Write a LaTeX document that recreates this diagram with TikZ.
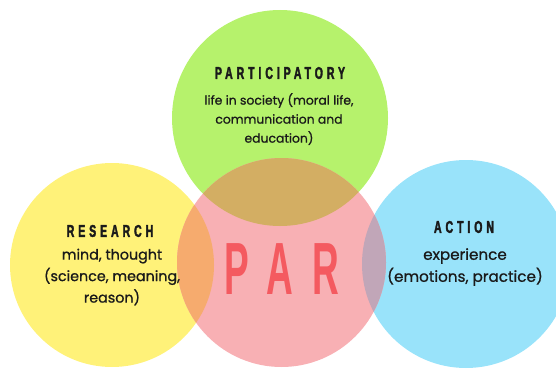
\documentclass[tikz,border=0pt]{standalone}
\usepackage{fontspec}
\setmainfont{Poppins}[FakeBold=0.9]
\newfontfamily\headfont[FakeStretch=0.62,LetterSpace=23,FakeBold=2]{Liberation Sans Bold}
\newfontfamily\bigfont[FakeStretch=0.5,LetterSpace=27]{Liberation Sans Bold}

\definecolor{cgreen}{HTML}{B6F26C}
\definecolor{cyellow}{HTML}{FFF279}
\definecolor{cpink}{HTML}{F8B0B4}
\definecolor{cblue}{HTML}{99E3FA}
\definecolor{cbrown}{HTML}{D3AE63}
\definecolor{corange}{HTML}{F6AB6E}
\definecolor{cmauve}{HTML}{C1A6B8}
\definecolor{cred}{HTML}{F45A60}
\definecolor{ink}{HTML}{1A1A1A}

\tikzset{
  heading/.style={text=ink, font=\headfont\fontsize{17}{20}\selectfont, inner sep=0pt},
  bodytext/.style={text=ink, align=center, inner sep=0pt},
  bigtitle/.style={text=cred, inner sep=0pt, font=\bigfont\fontsize{74}{80}\selectfont},
}

\begin{document}
\begin{tikzpicture}[x=1pt,y=-1pt]
\useasboundingbox (0,0) rectangle (556,369);

% circle centres
\coordinate (G) at (280,118);
\coordinate (Y) at (112,265);
\coordinate (P) at (281.5,262.5);
\coordinate (B) at (466,264);

% the four discs
\fill[cgreen]  (G) circle (108);
\fill[cyellow] (Y) circle (102);
\fill[cblue]   (B) circle (104);
\fill[cpink]   (P) circle (104.5);

% overlaps with the central disc
\begin{scope}
  \clip (P) circle (104.5);
  \fill[cbrown]  (G) circle (108);
  \fill[corange] (Y) circle (102);
  \fill[cmauve]  (B) circle (104);
\end{scope}

% labels
\node[heading] (hpart) at (280,73) {PARTICIPATORY};
\node[bodytext, font=\fontsize{12.4}{19}\selectfont] (tpart) at (279,119) {life in society (moral life,\\communication and\\education)};

\node[heading] (hres) at (110,231) {RESEARCH};
\node[bodytext, font=\fontsize{14.3}{21.5}\selectfont] (tres) at (112,277) {mind, thought\\(science, meaning,\\reason)};

\node[heading] (hact) at (464,227) {ACTION};
\node[bodytext, font=\fontsize{15.2}{22}\selectfont] (tact) at (465,267) {experience\\(emotions, practice)};

\node[bigtitle] (par) at (282,269) {PAR};
\end{tikzpicture}
\end{document}
